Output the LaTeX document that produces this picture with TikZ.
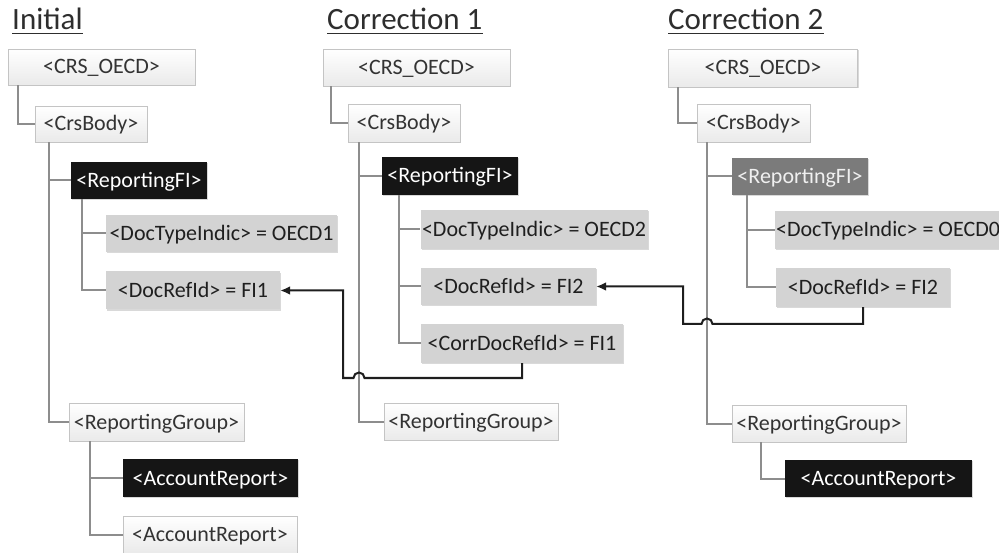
\documentclass[tikz,border=0pt]{standalone}
\usepackage{fontspec}
\setmainfont{Carlito}
\usetikzlibrary{shadows,arrows.meta}
\definecolor{lightbot}{HTML}{EAEAEA}
\definecolor{boxedge}{HTML}{C4C4C4}
\definecolor{grayfill}{HTML}{D3D3D3}
\definecolor{blackfill}{HTML}{151515}
\definecolor{midfill}{HTML}{7B7B7B}
\definecolor{treeline}{HTML}{8D8D8D}
\definecolor{connc}{HTML}{1E1E1E}
\definecolor{textgray}{HTML}{333333}
\definecolor{titlec}{HTML}{2E2E2E}
\begin{document}
\begin{tikzpicture}[x=1pt,y=-1pt,
  box/.style={rectangle, inner sep=0pt, text height=14pt, text depth=0pt,
    font=\fontsize{22}{24}\selectfont,
    drop shadow={shadow xshift=1.3pt, shadow yshift=-1.3pt, opacity=0.3}},
  lightbox/.style={box, draw=boxedge, line width=0.8pt, top color=white, bottom color=lightbot, text=textgray},
  graybox/.style={box, fill=grayfill, text=black!88},
  blackbox/.style={box, fill=blackfill, text=white},
  midbox/.style={box, fill=midfill, text=white!94!black},
  title/.style={inner sep=0pt, anchor=base west, text=titlec, font=\fontsize{31}{36}\selectfont},
  uline/.style={draw=titlec, line width=1.5pt},
  tree/.style={draw=treeline, line width=2pt},
  conn/.style={draw=connc, line width=2pt, -{Latex[length=10pt,width=9pt]}}]
\useasboundingbox (0,0) rectangle (999,553);

% titles
\node[title] (t1) at (12,30) {Initial};
\node[title] (t2) at (327,30) {Correction 1};
\node[title] (t3) at (668,30) {Correction 2};
\foreach \t in {t1,t2,t3}{\draw[uline] ([yshift=-3.5pt]\t.base west) -- ([yshift=-3.5pt]\t.base east);}

% Initial
\node[lightbox, minimum width=187pt, minimum height=36pt] (i0) at (101.5,67) {<CRS\_OECD>};
\node[lightbox, minimum width=112pt, minimum height=36pt] (i1) at (91,124) {<CrsBody>};
\node[blackbox, minimum width=136pt, minimum height=37pt] (i2) at (139,180.5) {<ReportingFI>};
\node[graybox, minimum width=231pt, minimum height=37pt] (i3) at (221.5,233.5) {<DocTypeIndic> = OECD1};
\node[graybox, minimum width=174pt, minimum height=38pt] (i4) at (193,290.5) {<DocRefId> = FI1};
\node[lightbox, minimum width=175pt, minimum height=38pt] (i5) at (156.5,422) {<ReportingGroup>};
\node[blackbox, minimum width=175pt, minimum height=38pt] (i6) at (210.5,478) {<AccountReport>};
\node[lightbox, minimum width=174pt, minimum height=37pt] (i7) at (210,534.5) {<AccountReport>};

\draw[tree] ([xshift=10pt]i0.south west) |- (i1.west);
\draw[tree] ([xshift=14pt]i1.south west) |- (i2.west);
\draw[tree] ([xshift=14pt]i1.south west) |- (i5.west);
\draw[tree] ([xshift=11pt]i2.south west) |- (i3.west);
\draw[tree] ([xshift=11pt]i2.south west) |- (i4.west);
\draw[tree] ([xshift=21pt]i5.south west) |- (i6.west);
\draw[tree] ([xshift=21pt]i5.south west) |- (i7.west);

% Correction 1
\node[lightbox, minimum width=187pt, minimum height=37pt] (c0) at (416.5,67.5) {<CRS\_OECD>};
\node[lightbox, minimum width=112pt, minimum height=38pt] (c1) at (404,123) {<CrsBody>};
\node[blackbox, minimum width=136pt, minimum height=38pt] (c2) at (450,176) {<ReportingFI>};
\node[graybox, minimum width=227pt, minimum height=39pt] (c3) at (534,229.5) {<DocTypeIndic> = OECD2};
\node[graybox, minimum width=175pt, minimum height=37pt] (c4) at (508.5,286.5) {<DocRefId> = FI2};
\node[graybox, minimum width=202pt, minimum height=39pt] (c5) at (522,343.5) {<CorrDocRefId> = FI1};
\node[lightbox, minimum width=174pt, minimum height=37pt] (c6) at (471,421.5) {<ReportingGroup>};

\draw[tree] ([xshift=8pt]c0.south west) |- (c1.west);
\draw[tree] ([xshift=11pt]c1.south west) |- (c2.west);
\draw[tree] ([xshift=11pt]c1.south west) |- (c6.west);
\draw[tree] ([xshift=17pt]c2.south west) |- (c3.west);
\draw[tree] ([xshift=17pt]c2.south west) |- (c4.west);
\draw[tree] ([xshift=17pt]c2.south west) |- (c5.west);

% Correction 2
\node[lightbox, minimum width=189pt, minimum height=38pt] (d0) at (763,68) {<CRS\_OECD>};
\node[lightbox, minimum width=113pt, minimum height=38pt] (d1) at (753.5,123) {<CrsBody>};
\node[midbox, minimum width=136pt, minimum height=37pt] (d2) at (800,176.5) {<ReportingFI>};
\node[graybox, minimum width=226pt, minimum height=38pt] (d3) at (888,230) {<DocTypeIndic> = OECD0};
\node[graybox, minimum width=174pt, minimum height=39pt] (d4) at (863,287.5) {<DocRefId> = FI2};
\node[lightbox, minimum width=174pt, minimum height=37pt] (d5) at (819,423.5) {<ReportingGroup>};
\node[blackbox, minimum width=187pt, minimum height=37pt] (d6) at (878.5,478.5) {<AccountReport>};

\draw[tree] ([xshift=10pt]d0.south west) |- (d1.west);
\draw[tree] ([xshift=10pt]d1.south west) |- (d2.west);
\draw[tree] ([xshift=10pt]d1.south west) |- (d5.west);
\draw[tree] ([xshift=15pt]d2.south west) |- (d3.west);
\draw[tree] ([xshift=15pt]d2.south west) |- (d4.west);
\draw[tree] ([xshift=29pt]d5.south west) |- (d6.west);

% correction links
\draw[conn] (c5.south) |- (364.5,378) arc[start angle=0, end angle=180, radius=5.5pt] -- (343,378) |- (i4.east);
\draw[conn] (d4.south) |- (712.5,324) arc[start angle=0, end angle=180, radius=5.5pt] -- (683,324) |- (c4.east);
\end{tikzpicture}
\end{document}
